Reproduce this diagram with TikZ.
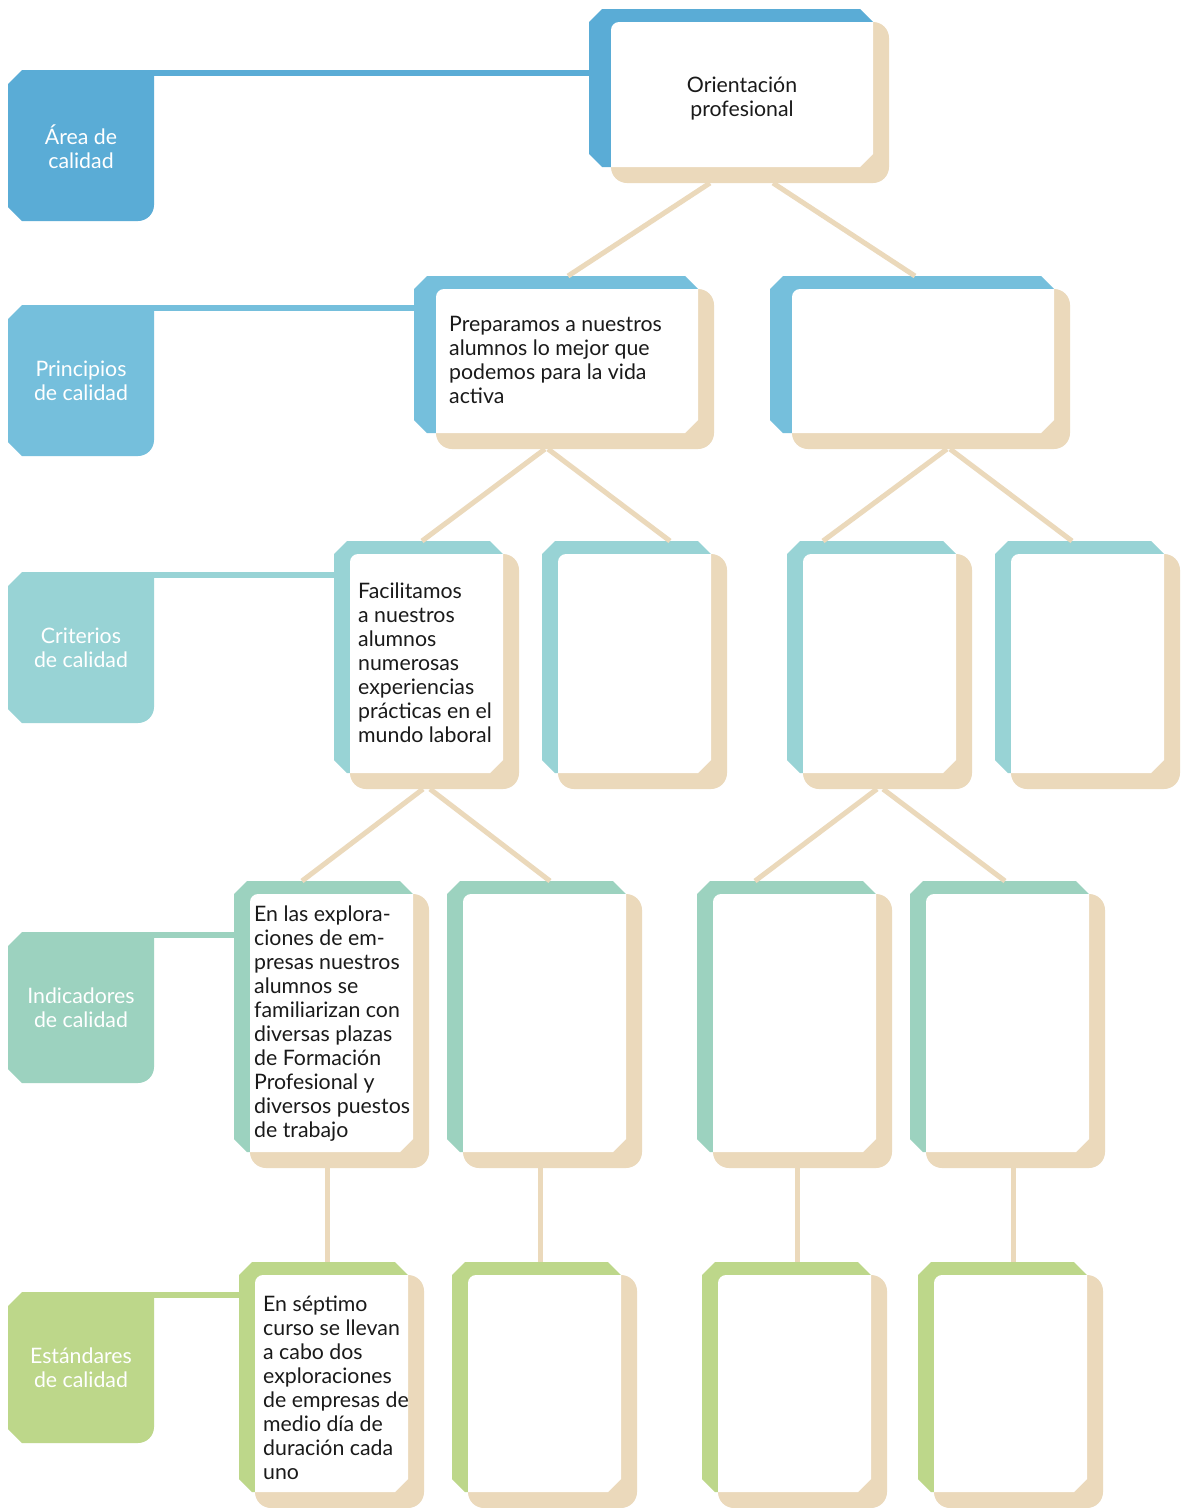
\documentclass[tikz,border=0pt]{standalone}
\usepackage{fontspec}
\setmainfont{Lato}
\usepackage{tikz}
\usetikzlibrary{positioning}
\definecolor{area}{HTML}{5AACD6}
\definecolor{principio}{HTML}{75BFDC}
\definecolor{criterio}{HTML}{98D3D5}
\definecolor{indicador}{HTML}{9CD2BF}
\definecolor{estandar}{HTML}{BDD78A}
\definecolor{beige}{HTML}{EBD9BB}
\definecolor{tinta}{HTML}{1A1A1A}
\tikzstyle{enlace} = [draw=beige, line width=5pt]
\tikzstyle{marco}  = [inner sep=0pt, outer sep=0pt]
\tikzstyle{texto}  = [inner sep=0pt, align=left, anchor=north west, text=tinta, font=\fontsize{21.3}{24}\selectfont]
\tikzstyle{rotulo} = [inner sep=0pt, align=center, anchor=north, text=white, font=\fontsize{21.3}{24}\selectfont]

% card: name, colour, strip, left, top, right, bottom (of the white face)
\newcommand{\tarjeta}[7]{%
  \fill[#2] (#4-#3,#5) -- (#4-#3+13,#5-13) -- (#6-13,#5-13) -- (#6,#5) -- (#6,#7)
            -- (#4-#3+13,#7) -- (#4-#3,#7-13) -- cycle;
  \fill[beige, rounded corners=16pt] (#4,#5) rectangle (#6+16,#7+16);
  \fill[white] (#4,#5+8) .. controls (#4,#5+3.6) and (#4+3.6,#5) .. (#4+8,#5) -- (#6,#5) -- (#6,#7-13)
            -- (#6-13,#7) -- (#4,#7) -- cycle;
  \node[marco, minimum width={(#6+16-#4+#3)*1pt}, minimum height={(#7-#5+29)*1pt}]
        (#1) at ({(#4-#3+#6+16)/2},{(#5-13+#7+16)/2}) {};
}
% level label: name, colour, top, text
\newcommand{\etiqueta}[4]{%
  \fill[#2] (8,#3+14) -- (22,#3) -- (154,#3) -- (154,#3+135)
            .. controls (154,#3+143.8) and (146.8,#3+151) .. (138,#3+151)
            -- (22,#3+151) -- (8,#3+137) -- cycle;
  \node[marco, minimum width=146pt, minimum height=151pt] (#1) at (81,#3+75.5) {};
  \node[rotulo] (#1-t) at (81,#3+54.5) {\strut #4};
}

\begin{document}
\begin{tikzpicture}[x=1pt, y=-1pt]

\fill[white] (0,0) rectangle (1185,1508);
\useasboundingbox (0,0) rectangle (1185,1508);

% labels
\etiqueta{areas}{area}{70}{Área de\\calidad}
\etiqueta{principios}{principio}{305}{Principios\\de calidad}
\etiqueta{criterios}{criterio}{572}{Criterios\\de calidad}
\etiqueta{indicadores}{indicador}{932}{Indicadores\\de calidad}
\etiqueta{estandares}{estandar}{1292}{Estándares\\de calidad}

% cards
\tarjeta{orient}{area}{22}{611}{22}{873}{167}
\tarjeta{prin1}{principio}{22}{436}{289}{698}{433}
\tarjeta{prin2}{principio}{22}{792}{289}{1054}{433}
\tarjeta{crit1}{criterio}{16}{350}{554}{503}{773}
\tarjeta{crit2}{criterio}{16}{558}{554}{711}{773}
\tarjeta{crit3}{criterio}{16}{803}{554}{956}{773}
\tarjeta{crit4}{criterio}{16}{1011}{554}{1164}{773}
\tarjeta{ind1}{indicador}{16}{250}{894}{413}{1152}
\tarjeta{ind2}{indicador}{16}{463}{894}{626}{1152}
\tarjeta{ind3}{indicador}{16}{713}{894}{876}{1152}
\tarjeta{ind4}{indicador}{16}{926}{894}{1089}{1152}
\tarjeta{est1}{estandar}{16}{255}{1275}{408}{1492}
\tarjeta{est2}{estandar}{16}{468}{1275}{621}{1492}
\tarjeta{est3}{estandar}{16}{718}{1275}{871}{1492}
\tarjeta{est4}{estandar}{16}{934}{1275}{1087}{1492}

% label lines
\draw[area, line width=6pt, transform canvas={yshift=-3pt}]      (areas.north east)       -- (areas.north east -| orient.west);
\draw[principio, line width=6pt, transform canvas={yshift=-3pt}] (principios.north east)  -- (principios.north east -| prin1.west);
\draw[criterio, line width=6pt, transform canvas={yshift=-3pt}]  (criterios.north east)   -- (criterios.north east -| crit1.west);
\draw[indicador, line width=6pt, transform canvas={yshift=-3pt}] (indicadores.north east) -- (indicadores.north east -| ind1.west);
\draw[estandar, line width=6pt, transform canvas={yshift=-3pt}]  (estandares.north east)  -- (estandares.north east -| est1.west);

% edges
\draw[enlace] ([xshift=-29pt]orient.south) -- ([xshift=4pt]prin1.north);
\draw[enlace] ([xshift=34pt]orient.south)  -- ([xshift=-5pt]prin2.north);
\draw[enlace] ([xshift=-19pt]prin1.south)  -- ([xshift=-4.5pt]crit1.north);
\draw[enlace] ([xshift=-16pt]prin1.south)  -- ([xshift=35.5pt]crit2.north);
\draw[enlace] ([xshift=27pt]prin2.south)   -- ([xshift=-56.5pt]crit3.north);
\draw[enlace] ([xshift=30pt]prin2.south)   -- ([xshift=-15.5pt]crit4.north);
\draw[enlace] ([xshift=-3.5pt]crit1.south) -- ([xshift=-29.5pt]ind1.north);
\draw[enlace] ([xshift=3.5pt]crit1.south)  -- ([xshift=5.5pt]ind2.north);
\draw[enlace] ([xshift=-2.5pt]crit3.south) -- ([xshift=-39.5pt]ind3.north);
\draw[enlace] ([xshift=3.5pt]crit3.south)  -- ([xshift=-2.5pt]ind4.north);
\draw[enlace] ([xshift=-4.5pt]ind1.south)  -- ([xshift=-4.5pt]est1.north);
\draw[enlace] ([xshift=-4.5pt]ind2.south)  -- ([xshift=-4.5pt]est2.north);
\draw[enlace] ([xshift=2.5pt]ind3.south)   -- ([xshift=2.5pt]est3.north);
\draw[enlace] ([xshift=5.5pt]ind4.south)   -- ([xshift=2.5pt]est4.north);

% texts
\node[texto, anchor=north, align=center] (t-orient) at (742,75) {\strut Orientación\\profesional};
\node[texto] (t-prin1) at (449,314) {\strut Preparamos a nuestros\\alumnos lo mejor que\\podemos para la vida\\activa};
\node[texto] (t-crit1) at (358,581) {\strut Facilitamos\\a nuestros\\alumnos\\numerosas\\experiencias\\prácticas en el\\mundo laboral};
\node[texto] (t-ind1) at (254,904) {\strut En las explora-\\ciones de em-\\presas nuestros\\alumnos se\\familiarizan con\\diversas plazas\\de Formación\\Profesional y\\diversos puestos\\de trabajo};
\node[texto] (t-est1) at (263,1294) {\strut En séptimo\\curso se llevan\\a cabo dos\\exploraciones\\de empresas de\\medio día de\\duración cada\\uno};

\end{tikzpicture}
\end{document}
